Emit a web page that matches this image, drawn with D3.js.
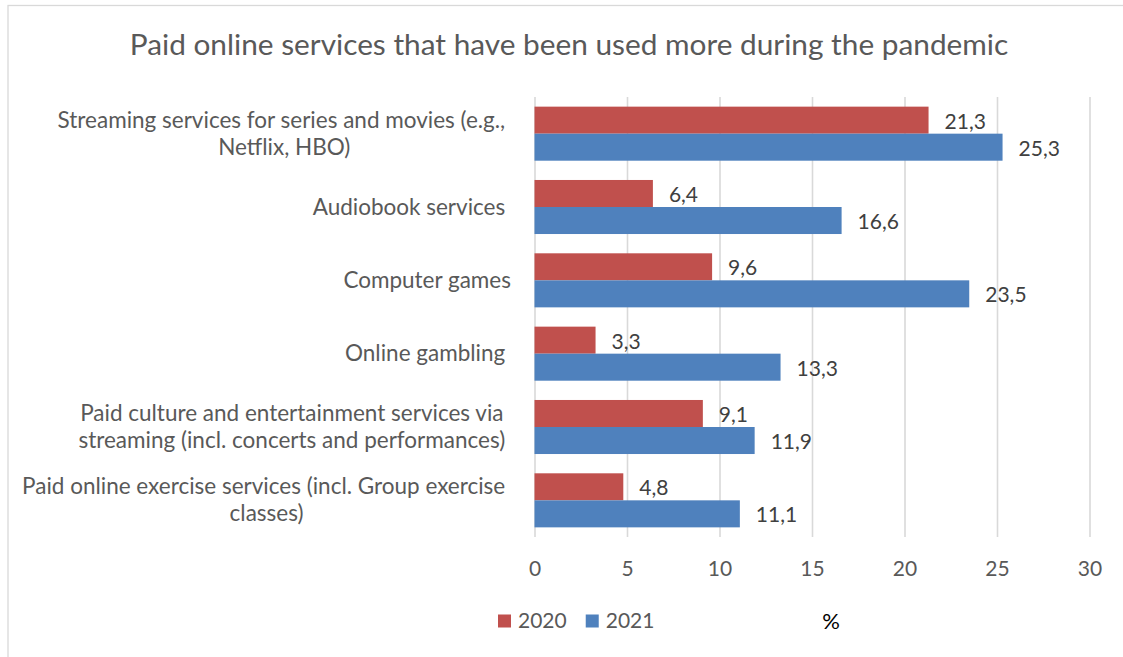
<!DOCTYPE html>
<html>
<head>
<meta charset="utf-8">
<script src="https://cdn.jsdelivr.net/npm/d3@7"></script>
<style>
  body { margin: 0; background: #fff; }
  svg { display: block; font-family: Lato, "Open Sans", "DejaVu Sans", sans-serif; }
  text { white-space: pre; }
</style>
</head>
<body>
<svg id="chart" width="1123" height="657"></svg>
<script>
// ---- data ----
const chartTitle = "Paid online services that have been used more during the pandemic";
const categories = [
  "Streaming services for series and movies (e.g., \nNetflix, HBO)",
  "Audiobook services ",
  "Computer games",
  "Online gambling ",
  "Paid culture and entertainment services via \nstreaming (incl. concerts and performances) ",
  "Paid online exercise services (incl. Group exercise \nclasses)"
];
const seriesNames = ["2020", "2021"];
const values2020 = [21.3, 6.4, 9.6, 3.3, 9.1, 4.8];
const values2021 = [25.3, 16.6, 23.5, 13.3, 11.9, 11.1];
const xTicks = [0, 5, 10, 15, 20, 25, 30];
const unitLabel = "%";

// ---- styling ----
const W = 1123, H = 657;
const colors = { "2020": "#C0504D", "2021": "#4F81BD" };
const gridColor = "#D9D9D9";
const textGrey = "#595959";
const labelDark = "#404040";
const fsTitle = 29.8, fsText = 21, fsCat = 22.5;

const svg = d3.select("#chart");

// chart area frame
svg.append("rect")
  .attr("x", 8).attr("y", 5.5)
  .attr("width", W).attr("height", H)
  .attr("fill", "#fff")
  .attr("stroke", gridColor).attr("stroke-width", 1.3);

// title
svg.append("text")
  .attr("x", 569).attr("y", 55)
  .attr("text-anchor", "middle")
  .attr("fill", textGrey)
  .attr("font-size", fsTitle)
  .text(chartTitle);

// scales
const plotTop = 97, plotBottom = 537;
const x = d3.scaleLinear().domain([xTicks[0], xTicks[xTicks.length - 1]]).range([534.5, 1089.5]);
const y = d3.scaleBand().domain(d3.range(categories.length))
  .range([plotTop, plotBottom]).paddingInner(0.263).paddingOuter(0.1315);
const ySub = d3.scaleBand().domain(seriesNames).range([0, y.bandwidth()]);

// vertical gridlines + tick labels
const xAxis = d3.axisBottom(x).tickValues(xTicks)
  .tickSize(-(plotBottom - plotTop)).tickFormat(d3.format("d"));
const gx = svg.append("g").attr("transform", `translate(0,${plotBottom})`).call(xAxis);
gx.select(".domain").remove();
gx.selectAll(".tick line").attr("stroke", gridColor).attr("stroke-width", 1.6);
gx.selectAll(".tick text")
  .attr("y", 39).attr("dy", null)
  .attr("fill", textGrey)
  .attr("font-size", fsText);
gx.attr("font-family", null).attr("font-size", null);

// bars
const fmt = d3.formatLocale({ decimal: ",", thousands: " ", grouping: [3], currency: ["", ""] }).format(".1f");
const rows = categories.map((c, i) => ({ i, vals: [
  { s: seriesNames[0], v: values2020[i] },
  { s: seriesNames[1], v: values2021[i] }
]}));

const groups = svg.append("g").selectAll("g").data(rows).join("g")
  .attr("transform", d => `translate(0,${y(d.i)})`);

groups.selectAll("rect").data(d => d.vals).join("rect")
  .attr("x", x(0))
  .attr("y", d => ySub(d.s))
  .attr("width", d => x(d.v) - x(0))
  .attr("height", ySub.bandwidth())
  .attr("fill", d => colors[d.s]);

groups.selectAll("text.val").data(d => d.vals).join("text")
  .attr("class", "val")
  .attr("x", d => x(d.v) + 16)
  .attr("y", d => ySub(d.s) + ySub.bandwidth() / 2 + 8.5)
  .attr("fill", labelDark)
  .attr("font-size", fsText)
  .text(d => fmt(d.v));

// category labels (wrapped lines centred within a right-aligned block)
const labelRight = 511, lineH = 27;
categories.forEach((c, i) => {
  const lines = c.split("\n");
  const cy = y(i) + y.bandwidth() / 2;
  const t = svg.append("text").attr("fill", textGrey).attr("font-size", fsCat);
  const spans = lines.map((ln, k) => t.append("tspan")
    .attr("y", cy + 7.5 + (k - (lines.length - 1) / 2) * lineH)
    .text(ln));
  const widths = spans.map(s => s.node().getComputedTextLength());
  const maxW = d3.max(widths);
  spans.forEach(s => s.attr("x", labelRight - maxW / 2).attr("text-anchor", "middle"));
});

// legend
let lx = 498;
const legend = svg.append("g");
seriesNames.forEach(s => {
  legend.append("rect").attr("x", lx).attr("y", 614.5).attr("width", 13).attr("height", 13).attr("fill", colors[s]);
  const t = legend.append("text").attr("x", lx + 20).attr("y", 628)
    .attr("fill", textGrey).attr("font-size", fsText).text(s);
  lx += 20 + t.node().getComputedTextLength() + 19;
});

// unit label
svg.append("text")
  .attr("x", 831).attr("y", 629)
  .attr("text-anchor", "middle")
  .attr("fill", "#000")
  .attr("font-size", 22)
  .text(unitLabel);
</script>
</body>
</html>
